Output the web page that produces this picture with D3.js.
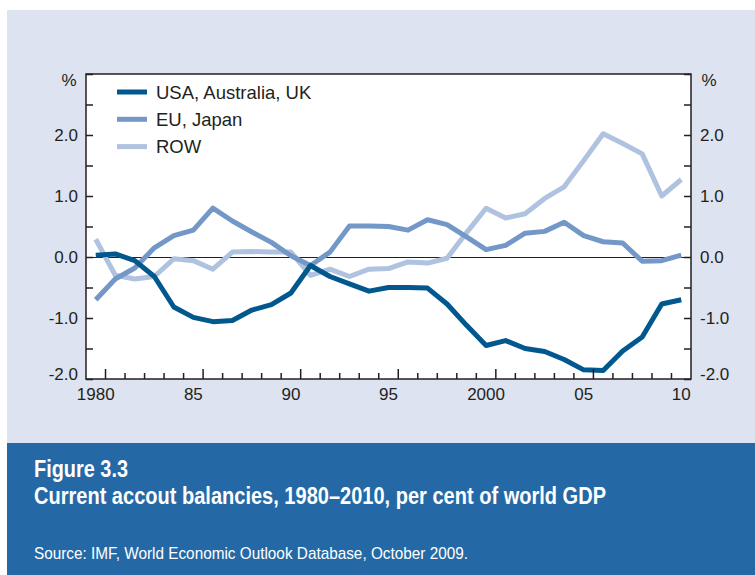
<!DOCTYPE html>
<html><head><meta charset="utf-8">
<script src="https://cdn.jsdelivr.net/npm/d3@7"></script>
<style>
html,body{margin:0;padding:0;background:#fff;}
svg{display:block;}
</style></head>
<body>
<svg id="chart" width="755" height="575"></svg>
<script>
const years = d3.range(1980, 2011);
const usaAusUk = [0.03,0.05,-0.06,-0.32,-0.82,-0.99,-1.06,-1.04,-0.87,-0.78,-0.59,-0.14,-0.32,-0.44,-0.56,-0.50,-0.50,-0.51,-0.77,-1.12,-1.45,-1.37,-1.50,-1.55,-1.68,-1.85,-1.86,-1.54,-1.31,-0.77,-0.70];
const euJapan = [-0.70,-0.36,-0.18,0.15,0.35,0.44,0.80,0.59,0.41,0.24,0.02,-0.14,0.08,0.51,0.51,0.50,0.44,0.61,0.53,0.33,0.12,0.19,0.39,0.42,0.57,0.35,0.25,0.23,-0.07,-0.06,0.03];
const row = [0.29,-0.30,-0.36,-0.32,-0.03,-0.06,-0.20,0.08,0.09,0.08,0.08,-0.30,-0.20,-0.32,-0.20,-0.19,-0.08,-0.10,-0.02,0.40,0.80,0.64,0.71,0.96,1.15,1.58,2.02,1.86,1.69,1.00,1.27];
const seriesNames = ["USA, Australia, UK", "EU, Japan", "ROW"];
const seriesColors = ["#00588f", "#7398c8", "#afc2e0"];
const yTickValues = [-2, -1, 0, 1, 2];
const yTickLabels = ["-2.0", "-1.0", "0.0", "1.0", "2.0"];
const xLabelYears = [1980, 1985, 1990, 1995, 2000, 2005, 2010];
const xTickLabels = ["1980", "85", "90", "95", "2000", "05", "10"];
const figureNumber = "Figure 3.3";
const figureTitle = "Current accout balancies, 1980\u20132010, per cent of world GDP";
const sourceText = "Source: IMF, World Economic Outlook Database, October 2009.";

const svg = d3.select("#chart");
const font = "'Liberation Sans', Arial, sans-serif";
const ink = "#231f20";

// backgrounds
svg.append("rect").attr("x", 7).attr("y", 10).attr("width", 748).attr("height", 433).attr("fill", "#dde3f0");
svg.append("rect").attr("x", 7).attr("y", 443).attr("width", 748).attr("height", 132).attr("fill", "#2469a5");

const L = 86, R = 691, T = 74, B = 379;
const x = d3.scaleBand().domain(years).range([L, R]).padding(0);
const xc = d => x(d) + x.bandwidth() / 2;
const y = d3.scaleLinear().domain([-2, 3]).range([B, T]);

svg.append("rect").attr("x", L).attr("y", T).attr("width", R - L).attr("height", B - T).attr("fill", "#fff");

// zero line
svg.append("line").attr("x1", L).attr("x2", R).attr("y1", Math.round(y(0)) + 0.5).attr("y2", Math.round(y(0)) + 0.5)
  .attr("stroke", "#231f20").attr("stroke-width", 1);

// series lines
const allSeries = [usaAusUk, euJapan, row];
const line = d3.line().x((d, i) => xc(years[i])).y(d => y(d)).curve(d3.curveLinear);
[2, 1, 0].forEach(k => {
  svg.append("path").datum(allSeries[k]).attr("d", line)
    .attr("fill", "none").attr("stroke", seriesColors[k]).attr("stroke-width", 5)
    .attr("stroke-linejoin", "round").attr("stroke-linecap", "butt");
});

// frame
svg.append("rect").attr("x", L).attr("y", T).attr("width", R - L).attr("height", B - T)
  .attr("fill", "none").attr("stroke", ink).attr("stroke-width", 1.5);

// y ticks (every 0.5), labels on both sides
const halfTicks = d3.range(-2, 3.01, 0.5);
const yl = svg.append("g").attr("transform", `translate(${L},0)`)
  .call(d3.axisLeft(y).tickValues(halfTicks).tickSize(-7).tickFormat(() => ""));
const yr = svg.append("g").attr("transform", `translate(${R},0)`)
  .call(d3.axisRight(y).tickValues(halfTicks).tickSize(-7).tickFormat(() => ""));
[yl, yr].forEach(g => { g.select(".domain").remove(); g.selectAll("line").attr("stroke", ink).attr("stroke-width", 1.5); });

yTickValues.forEach((v, i) => {
  const shift = v === -2 ? -5 : 0;
  svg.append("text").attr("x", L - 8).attr("y", y(v) + shift).attr("dy", "0.36em").attr("text-anchor", "end")
    .attr("font-family", font).attr("font-size", 17).attr("fill", ink).text(yTickLabels[i]);
  svg.append("text").attr("x", R + 9).attr("y", y(v) + shift).attr("dy", "0.36em").attr("text-anchor", "start")
    .attr("font-family", font).attr("font-size", 17).attr("fill", ink).text(yTickLabels[i]);
});
svg.append("text").attr("x", 69).attr("y", 86).attr("text-anchor", "middle")
  .attr("font-family", font).attr("font-size", 17).attr("fill", ink).text("%");
svg.append("text").attr("x", 709).attr("y", 86).attr("text-anchor", "middle")
  .attr("font-family", font).attr("font-size", 17).attr("fill", ink).text("%");

// x ticks at year boundaries
const boundaries = years.slice(1);
boundaries.forEach(yr0 => {
  const bx = x(yr0);
  const major = (yr0 - 1981) % 5 === 0;
  svg.append("line").attr("x1", bx).attr("x2", bx).attr("y1", B).attr("y2", B - (major ? 10 : 6))
    .attr("stroke", ink).attr("stroke-width", 1.5);
});
xLabelYears.forEach((yv, i) => {
  svg.append("text").attr("x", xc(yv)).attr("y", 400).attr("text-anchor", "middle")
    .attr("font-family", font).attr("font-size", 17).attr("fill", ink).text(xTickLabels[i]);
});

// legend
const legend = svg.append("g");
seriesNames.forEach((name, i) => {
  const ly = 92 + i * 27.3;
  legend.append("line").attr("x1", 117).attr("x2", 147).attr("y1", ly).attr("y2", ly)
    .attr("stroke", seriesColors[i]).attr("stroke-width", 5);
  legend.append("text").attr("x", 156).attr("y", ly).attr("dy", "0.36em")
    .attr("font-family", font).attr("font-size", 18.5).attr("fill", ink).text(name);
});

// caption (condensed look via textLength)
svg.append("text").attr("x", 34).attr("y", 477).attr("font-family", font).attr("font-weight", "bold")
  .attr("font-size", 23).attr("fill", "#fff").attr("textLength", 94).attr("lengthAdjust", "spacingAndGlyphs").text(figureNumber);
svg.append("text").attr("x", 34).attr("y", 504).attr("font-family", font).attr("font-weight", "bold")
  .attr("font-size", 23).attr("fill", "#fff").attr("textLength", 572).attr("lengthAdjust", "spacingAndGlyphs").text(figureTitle);
svg.append("text").attr("x", 34).attr("y", 559).attr("font-family", font)
  .attr("font-size", 17).attr("fill", "#fff").attr("textLength", 434).attr("lengthAdjust", "spacingAndGlyphs").text(sourceText);
</script>
</body></html>
